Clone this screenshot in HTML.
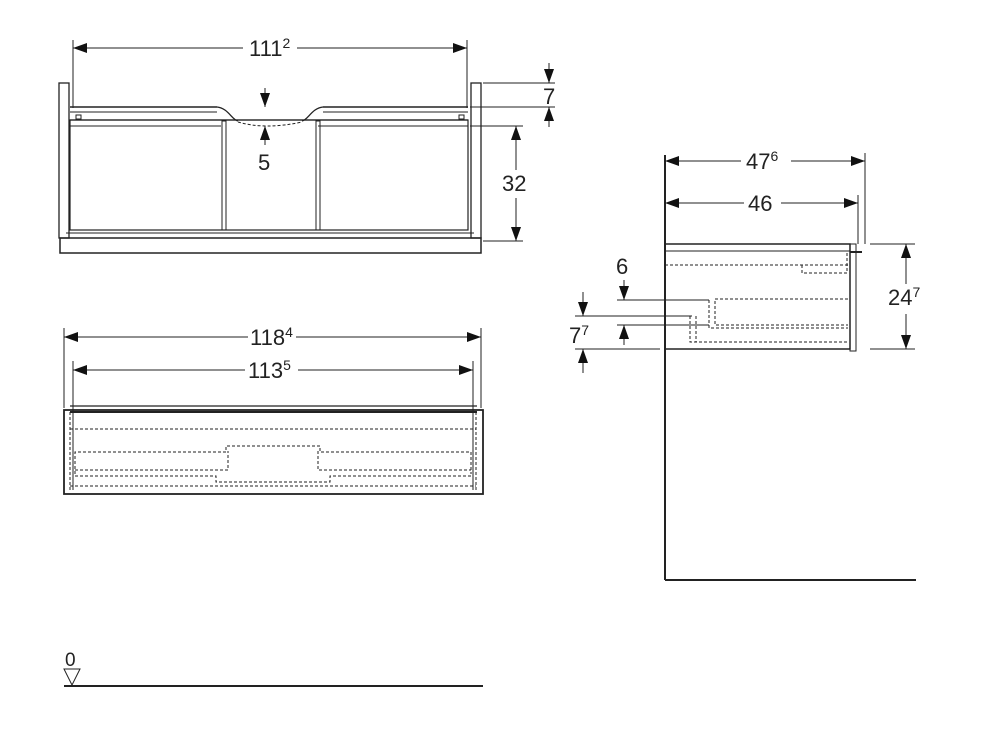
<!DOCTYPE html>
<html><head><meta charset="utf-8"><style>
html,body{margin:0;padding:0;background:#fff;}
svg{display:block;}
text{font-family:"Liberation Sans",sans-serif;fill:#222;}
</style></head><body>
<svg width="983" height="735" viewBox="0 0 983 735" xmlns="http://www.w3.org/2000/svg">
<defs>
<marker id="a" viewBox="0 0 14 10" refX="14" refY="5" markerWidth="14" markerHeight="10" markerUnits="userSpaceOnUse" orient="auto-start-reverse"><path d="M0,0 L14,5 L0,10 Z" fill="#111"/></marker>
</defs>
<g stroke="#222" fill="none" stroke-width="1">
<!-- TOP VIEW -->
<line x1="73" y1="40" x2="73" y2="108"/>
<line x1="467" y1="40" x2="467" y2="108"/>
<line x1="73" y1="48" x2="243" y2="48" marker-start="url(#a)"/>
<line x1="297" y1="48" x2="467" y2="48" marker-end="url(#a)"/>
<rect x="59" y="83" width="10" height="155" stroke-width="1.3"/>
<rect x="471" y="83" width="10" height="155" stroke-width="1.3"/>
<rect x="60" y="238" width="421" height="15" stroke-width="1.5"/>
<line x1="66" y1="233" x2="474" y2="233"/>
<line x1="70" y1="107" x2="217" y2="107" stroke-width="1.5"/>
<line x1="323" y1="107" x2="468" y2="107" stroke-width="1.5"/>
<line x1="70" y1="112" x2="217" y2="112"/>
<line x1="323" y1="112" x2="468" y2="112"/>
<path d="M217,107 C228,108 232,120 238,121 M323,107 C312,108 308,120 302,121" stroke-width="1.3"/>
<line x1="70" y1="120" x2="468" y2="120" stroke-width="1.3"/>
<path d="M238,122 Q265,130 302,122" stroke-dasharray="3,2"/>
<line x1="70" y1="126" x2="221" y2="126"/>
<line x1="318" y1="126" x2="468" y2="126"/>
<rect x="70" y="120" width="398" height="110" stroke-width="1.2"/>
<rect x="222" y="121" width="4" height="109"/>
<rect x="316" y="121" width="4" height="109"/>
<rect x="76" y="115" width="5" height="4"/>
<rect x="459" y="115" width="5" height="4"/>
<line x1="483" y1="83" x2="555" y2="83"/>
<line x1="470" y1="107" x2="555" y2="107"/>
<line x1="470" y1="126" x2="523" y2="126"/>
<line x1="483" y1="241" x2="523" y2="241"/>
<line x1="549" y1="63" x2="549" y2="83" marker-end="url(#a)"/>
<line x1="549" y1="127" x2="549" y2="107" marker-end="url(#a)"/>
<line x1="265" y1="88" x2="265" y2="107" marker-end="url(#a)"/>
<line x1="265" y1="145" x2="265" y2="126" marker-end="url(#a)"/>
<line x1="516" y1="170" x2="516" y2="126" marker-end="url(#a)"/>
<line x1="516" y1="198" x2="516" y2="241" marker-end="url(#a)"/>
<!-- FRONT VIEW -->
<line x1="64" y1="328" x2="64" y2="408"/>
<line x1="481" y1="328" x2="481" y2="408"/>
<line x1="73" y1="361" x2="73" y2="490"/>
<line x1="473" y1="361" x2="473" y2="490"/>
<line x1="64" y1="337" x2="248" y2="337" marker-start="url(#a)"/>
<line x1="296" y1="337" x2="481" y2="337" marker-end="url(#a)"/>
<line x1="73" y1="370" x2="245" y2="370" marker-start="url(#a)"/>
<line x1="298" y1="370" x2="473" y2="370" marker-end="url(#a)"/>
<rect x="64" y="410" width="419" height="84" stroke-width="1.8"/>
<line x1="70" y1="406" x2="477" y2="406" stroke-width="1.3"/>
<line x1="70" y1="412" x2="477" y2="412" stroke-width="2"/>
<g stroke-dasharray="3,2">
<line x1="70" y1="429" x2="476" y2="429"/>
<path d="M75,474 V452 H226 V446 H320 V452 H471 V474"/>
<path d="M75,470 H228 V451 M318,451 V470 H471"/>
<path d="M75,476 H216 V482 H330 V476 H471"/>
<line x1="70" y1="486" x2="476" y2="486"/>
<line x1="70" y1="412" x2="70" y2="490"/>
<line x1="476" y1="412" x2="476" y2="490"/>
</g>
<!-- SIDE VIEW -->
<line x1="665" y1="155" x2="665" y2="580" stroke-width="2"/>
<line x1="665" y1="580" x2="916" y2="580" stroke-width="2"/>
<line x1="865" y1="153" x2="865" y2="244"/>
<line x1="858" y1="195" x2="858" y2="244"/>
<line x1="665" y1="161" x2="741" y2="161" marker-start="url(#a)"/>
<line x1="791" y1="161" x2="865" y2="161" marker-end="url(#a)"/>
<line x1="665" y1="203" x2="744" y2="203" marker-start="url(#a)"/>
<line x1="781" y1="203" x2="858" y2="203" marker-end="url(#a)"/>
<rect x="665" y="244" width="185" height="105" stroke-width="1.5"/>
<line x1="665" y1="251" x2="850" y2="251"/>
<rect x="850" y="244" width="6" height="107"/>
<line x1="850" y1="252" x2="862" y2="252" stroke-width="2"/>
<line x1="870" y1="244" x2="915" y2="244"/>
<line x1="870" y1="349" x2="915" y2="349"/>
<line x1="906" y1="284" x2="906" y2="244" marker-end="url(#a)"/>
<line x1="906" y1="314" x2="906" y2="349" marker-end="url(#a)"/>
<g stroke-dasharray="3,2">
<line x1="665" y1="265" x2="848" y2="265"/>
<path d="M802,265 V273 H847 V251"/>
<path d="M848,299 H715 V325 H848"/>
<path d="M709,300 V328 H848"/>
<path d="M690,316 V342 H848"/>
<path d="M696,316 V342"/>
</g>
<line x1="617" y1="300" x2="709" y2="300"/>
<line x1="575" y1="316" x2="692" y2="316"/>
<line x1="617" y1="325" x2="709" y2="325"/>
<line x1="575" y1="349" x2="660" y2="349"/>
<line x1="624" y1="280" x2="624" y2="300" marker-end="url(#a)"/>
<line x1="624" y1="345" x2="624" y2="325" marker-end="url(#a)"/>
<line x1="583" y1="292" x2="583" y2="316" marker-end="url(#a)"/>
<line x1="583" y1="373" x2="583" y2="349" marker-end="url(#a)"/>
<!-- FLOOR -->
<line x1="64" y1="686" x2="483" y2="686" stroke-width="2"/>
<path d="M64,669 L80,669 L72,685 Z"/>
</g>
<g font-size="22">
<text x="249" y="56">111<tspan font-size="14" dy="-8">2</tspan></text>
<text x="543" y="104">7</text>
<text x="258" y="170">5</text>
<text x="502" y="191">32</text>
<text x="250" y="345">118<tspan font-size="14" dy="-8">4</tspan></text>
<text x="248" y="378">113<tspan font-size="14" dy="-8">5</tspan></text>
<text x="746" y="169">47<tspan font-size="14" dy="-8">6</tspan></text>
<text x="748" y="211">46</text>
<text x="616" y="274">6</text>
<text x="569" y="343">7<tspan font-size="14" dy="-8">7</tspan></text>
<text x="888" y="305">24<tspan font-size="14" dy="-8">7</tspan></text>
<text x="65" y="666" font-size="19">0</text>
</g>
</svg>
</body></html>
